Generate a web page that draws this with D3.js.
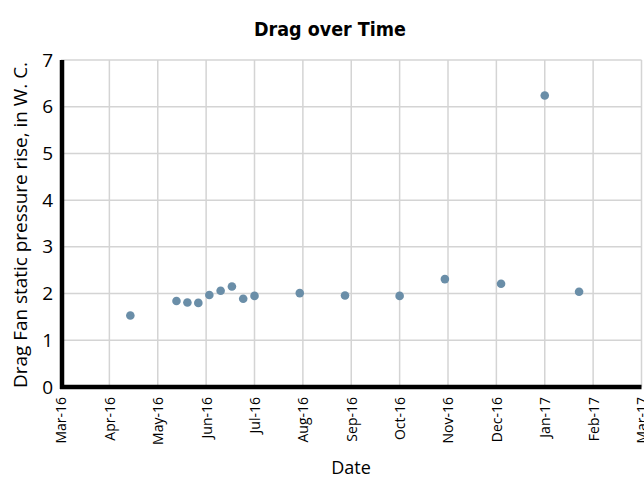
<!DOCTYPE html>
<html lang="en">
<head>
<meta charset="utf-8">
<title>Drag over Time</title>
<script src="https://cdn.jsdelivr.net/npm/d3@7"></script>
<style>
  body { margin: 0; background: #fff; }
  .grid line { stroke: #d4d4d4; stroke-width: 1.5; }
  .tick text { fill: #000; }
</style>
</head>
<body>
<script>
// sample dates and drag readings
var sampleDates = ["2016-04-14", "2016-05-13", "2016-05-20", "2016-05-27", "2016-06-03",
  "2016-06-10", "2016-06-17", "2016-06-24", "2016-07-01", "2016-07-30", "2016-08-28",
  "2016-10-01", "2016-10-30", "2016-12-04", "2017-01-01", "2017-01-23"];
var dragValues = [1.53, 1.84, 1.81, 1.80, 1.97, 2.06, 2.15, 1.89, 1.95, 2.01, 1.96,
  1.95, 2.31, 2.21, 6.24, 2.04];
var monthLabels = ["Mar-16", "Apr-16", "May-16", "Jun-16", "Jul-16", "Aug-16", "Sep-16",
  "Oct-16", "Nov-16", "Dec-16", "Jan-17", "Feb-17", "Mar-17"];
var yTicks = [0, 1, 2, 3, 4, 5, 6, 7];

var w = 644, h = 479;
var padL = 61, padR = 641.5, padT = 60, padB = 387;

// months since Mar 2016, each month the same width
function monthIndex(s) {
  var p = s.split("-").map(Number);
  var days = new Date(p[0], p[1], 0).getDate();
  return (p[0] - 2016) * 12 + (p[1] - 3) + (p[2] - 1) / days;
}

var data = sampleDates.map(function(d, i) {
  return { m: monthIndex(d), v: dragValues[i] };
});

var xScale = d3.scaleLinear().domain([0, 12]).range([padL, padR]);
var yScale = d3.scaleLinear().domain([0, 7]).range([padB, padT]);

var svg = d3.select("body").append("svg")
  .attr("width", w)
  .attr("height", h);

// gridlines
svg.append("g")
  .attr("class", "grid")
  .selectAll("line")
  .data(yTicks)
  .enter()
  .append("line")
  .attr("x1", padL).attr("x2", padR)
  .attr("y1", function(d) { return yScale(d); })
  .attr("y2", function(d) { return yScale(d); });

svg.append("g")
  .attr("class", "grid")
  .selectAll("line")
  .data(d3.range(monthLabels.length))
  .enter()
  .append("line")
  .attr("x1", function(d) { return xScale(d); })
  .attr("x2", function(d) { return xScale(d); })
  .attr("y1", padT).attr("y2", padB);

// points
svg.selectAll("circle")
  .data(data)
  .enter()
  .append("circle")
  .attr("cx", function(d) { return xScale(d.m); })
  .attr("cy", function(d) { return yScale(d.v); })
  .attr("r", 4.3)
  .attr("fill", "#6a8ea8");

// axes
var xAxis = d3.axisBottom(xScale)
  .tickValues(d3.range(monthLabels.length))
  .tickFormat(function(d) { return monthLabels[d]; })
  .tickSize(0);

var yAxis = d3.axisLeft(yScale)
  .tickValues(yTicks)
  .tickFormat(d3.format("d"))
  .tickSize(0);

var gx = svg.append("g")
  .attr("transform", "translate(0," + padB + ")")
  .call(xAxis);
gx.select(".domain").remove();
gx.selectAll("text")
  .attr("font-family", "'Open Sans', sans-serif")
  .attr("font-size", 14)
  .attr("transform", "rotate(-90)")
  .attr("text-anchor", "end")
  .attr("x", -10)
  .attr("y", 0)
  .attr("dy", "0.35em");

var gy = svg.append("g")
  .attr("transform", "translate(" + padL + ",0)")
  .call(yAxis);
gy.select(".domain").remove();
gy.selectAll("text")
  .attr("font-family", "'Open Sans', sans-serif")
  .attr("font-size", 19)
  .attr("x", -8);

// thick axis lines
svg.append("line")
  .attr("x1", padL + 1).attr("x2", padL + 1)
  .attr("y1", padT).attr("y2", padB + 2)
  .attr("stroke", "#000").attr("stroke-width", 4.5);
svg.append("line")
  .attr("x1", padL - 1).attr("x2", padR)
  .attr("y1", padB).attr("y2", padB)
  .attr("stroke", "#000").attr("stroke-width", 4.5);

// titles
svg.append("text")
  .attr("x", 330).attr("y", 36)
  .attr("text-anchor", "middle")
  .attr("font-family", "'DejaVu Sans Condensed', 'DejaVu Sans', sans-serif")
  .style("font-stretch", "condensed")
  .attr("font-weight", "bold")
  .attr("font-size", 19.5)
  .text("Drag over Time");

svg.append("text")
  .attr("transform", "translate(27,225) rotate(-90)")
  .attr("text-anchor", "middle")
  .attr("font-family", "'Open Sans', sans-serif")
  .attr("font-size", 18.5)
  .attr("textLength", 326)
  .attr("lengthAdjust", "spacingAndGlyphs")
  .text("Drag Fan static pressure rise, in W. C.");

svg.append("text")
  .attr("x", 351).attr("y", 474)
  .attr("text-anchor", "middle")
  .attr("font-family", "'Open Sans', sans-serif")
  .attr("font-size", 18)
  .text("Date");
</script>
</body>
</html>
